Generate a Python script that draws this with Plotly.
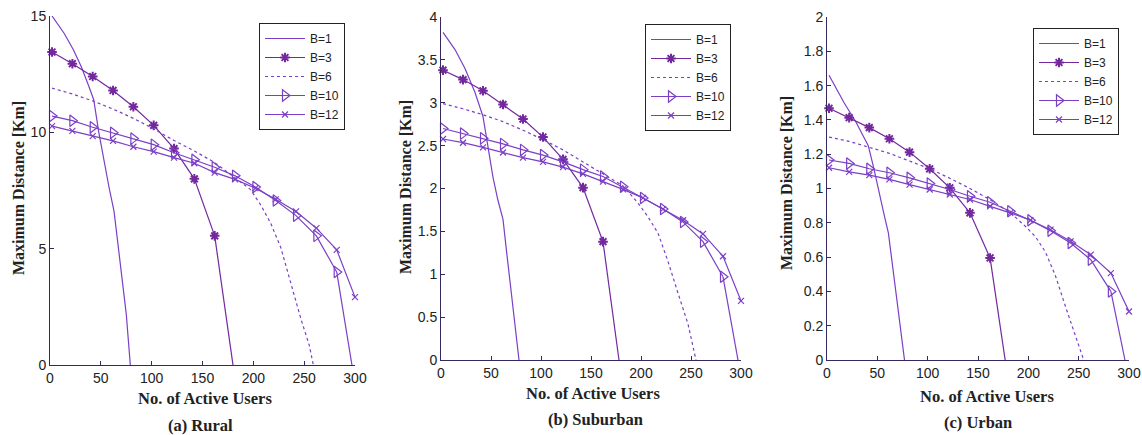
import plotly.graph_objects as go

# ---------------- data ----------------
X_MARK = [2, 22, 42, 62, 82, 102, 122, 142, 162, 182, 202, 222, 242, 262, 282]
X_B6 = [2, 22, 42, 62, 82, 102, 122, 142, 162, 182, 197, 207, 217, 227, 237, 247, 255]
SERIES = ["B=1", "B=3", "B=6", "B=10", "B=12"]

# Rural
R_B1_X = [2, 14, 23, 31, 38, 43, 48, 53, 58, 63, 67, 71, 75, 79]
R_B1_Y = [15.0, 14.25, 13.55, 12.8, 12.0, 11.4, 10.0, 8.8, 7.65, 6.6, 5.2, 3.8, 2.2, 0]
R_B3_Y = [13.45, 12.95, 12.4, 11.8, 11.1, 10.3, 9.3, 8.0, 5.55]
R_B3_END = [180, 0]
R_B6_Y = [11.9, 11.65, 11.35, 11.0, 10.6, 10.15, 9.65, 9.2, 8.7, 8.05, 7.55, 6.9, 6.1, 5.05, 3.5, 1.95, 0.85]
R_B6_END = [259, 0]
R_B10_Y = [10.7, 10.5, 10.22, 9.98, 9.73, 9.47, 9.12, 8.82, 8.5, 8.13, 7.65, 7.07, 6.42, 5.55, 4.0]
R_B10_END = [297, 0]
R_B12_Y = [10.27, 10.06, 9.84, 9.63, 9.38, 9.17, 8.91, 8.67, 8.27, 7.98, 7.6, 7.12, 6.6, 5.88, 4.95]
R_B12_END = [300, 2.92]

# Suburban
S_B1_X = [2, 14, 24, 34, 42, 47, 52, 57, 62, 66, 70, 74, 78]
S_B1_Y = [3.82, 3.62, 3.40, 3.12, 2.84, 2.48, 2.13, 1.86, 1.64, 1.22, 0.80, 0.40, 0]
S_B3_Y = [3.38, 3.27, 3.14, 2.98, 2.81, 2.60, 2.34, 2.01, 1.38]
S_B3_END = [178, 0]
S_B6_Y = [2.99, 2.93, 2.86, 2.78, 2.68, 2.57, 2.45, 2.31, 2.17, 2.03, 1.83, 1.67, 1.48, 1.15, 0.78, 0.42, 0]
S_B6_END = [255, 0]
S_B10_Y = [2.70, 2.64, 2.585, 2.52, 2.45, 2.39, 2.31, 2.22, 2.14, 2.02, 1.89, 1.76, 1.61, 1.38, 0.97]
S_B10_END = [297, 0]
S_B12_Y = [2.577, 2.534, 2.48, 2.42, 2.36, 2.31, 2.25, 2.17, 2.08, 1.99, 1.89, 1.76, 1.63, 1.47, 1.21]
S_B12_END = [300, 0.69]

# Urban
U_B1_X = [2, 17, 29, 41, 46, 52, 57, 61, 65, 69, 73, 77]
U_B1_Y = [1.66, 1.50, 1.385, 1.25, 1.13, 0.96, 0.84, 0.74, 0.56, 0.37, 0.18, 0]
U_B3_Y = [1.468, 1.413, 1.355, 1.29, 1.212, 1.115, 1.004, 0.858, 0.595]
U_B3_END = [177, 0]
U_B6_Y = [1.30, 1.275, 1.24, 1.205, 1.16, 1.115, 1.06, 1.0, 0.935, 0.86, 0.78, 0.72, 0.63, 0.49, 0.31, 0.13, 0]
U_B6_END = [254, 0]
U_B10_Y = [1.166, 1.146, 1.115, 1.092, 1.062, 1.029, 0.994, 0.955, 0.92, 0.867, 0.815, 0.754, 0.682, 0.585, 0.40]
U_B10_END = [296, 0]
U_B12_Y = [1.121, 1.097, 1.078, 1.053, 1.023, 0.994, 0.965, 0.936, 0.896, 0.858, 0.815, 0.76, 0.692, 0.614, 0.507]
U_B12_END = [300, 0.283]

Y_TITLE = "Maximum Distance [Km]"
X_TITLE = "No. of Active Users"
CAPTIONS = ["(a) Rural", "(b) Suburban", "(c) Urban"]
Y_RANGES = [[0, 15], [0, 4], [0, 2]]
Y_DTICKS = [5, 0.5, 0.2]

# ---------------- style ----------------
LINE_C = "#7b3fc6"
B3_C = "#74289e"
AX_C = "#35285f"
SANS = "Liberation Sans, Arial, sans-serif"
SERIF = "Liberation Serif, Times New Roman, serif"
LW = 1.2

fig = go.Figure()

panels = [
    (R_B1_X, R_B1_Y, R_B3_Y, R_B3_END, R_B6_Y, R_B6_END, R_B10_Y, R_B10_END, R_B12_Y, R_B12_END),
    (S_B1_X, S_B1_Y, S_B3_Y, S_B3_END, S_B6_Y, S_B6_END, S_B10_Y, S_B10_END, S_B12_Y, S_B12_END),
    (U_B1_X, U_B1_Y, U_B3_Y, U_B3_END, U_B6_Y, U_B6_END, U_B10_Y, U_B10_END, U_B12_Y, U_B12_END),
]

for i, p in enumerate(panels):
    (b1x, b1y, b3y, b3e, b6y, b6e, b10y, b10e, b12y, b12e) = p
    ax = "" if i == 0 else str(i + 1)
    xa, ya = "x" + ax, "y" + ax
    lg = "legend" + ax
    common = dict(xaxis=xa, yaxis=ya, legend=lg)

    # B=1
    fig.add_trace(go.Scatter(x=b1x, y=b1y, mode="lines", name=SERIES[0],
                             line=dict(color=LINE_C, width=LW), **common))
    # B=3
    n3 = len(b3y)
    fig.add_trace(go.Scatter(x=[X_MARK[n3 - 1], b3e[0]], y=[b3y[-1], b3e[1]], mode="lines",
                             line=dict(color=B3_C, width=LW), showlegend=False, **common))
    fig.add_trace(go.Scatter(x=X_MARK[:n3], y=b3y, mode="lines+markers", name=SERIES[1],
                             line=dict(color=B3_C, width=LW), cliponaxis=False,
                             marker=dict(symbol="asterisk-open", size=8,
                                         line=dict(color=B3_C, width=2)), **common))
    # B=6
    fig.add_trace(go.Scatter(x=X_B6 + [b6e[0]], y=b6y + [b6e[1]], mode="lines", name=SERIES[2],
                             line=dict(color=LINE_C, width=LW, dash="dot"), **common))
    # B=10
    fig.add_trace(go.Scatter(x=[X_MARK[-1], b10e[0]], y=[b10y[-1], b10e[1]], mode="lines",
                             line=dict(color=LINE_C, width=LW), showlegend=False, **common))
    fig.add_trace(go.Scatter(x=X_MARK, y=b10y, mode="lines+markers", name=SERIES[3],
                             line=dict(color=LINE_C, width=LW), cliponaxis=False,
                             marker=dict(symbol="triangle-right-open", size=10,
                                         line=dict(color=LINE_C, width=1.2)), **common))
    # B=12
    fig.add_trace(go.Scatter(x=X_MARK + [b12e[0]], y=b12y + [b12e[1]], mode="lines+markers",
                             name=SERIES[4], line=dict(color=LINE_C, width=LW), cliponaxis=False,
                             marker=dict(symbol="x-thin-open", size=6,
                                         line=dict(color=LINE_C, width=1.2)), **common))

W, H = 1142, 435
x_doms = [[50 / W, 355 / W], [441 / W, 741 / W], [827 / W, 1129 / W]]
y_doms = [[1 - 365 / H, 1 - 16 / H], [1 - 360 / H, 1 - 17 / H], [1 - 360 / H, 1 - 17 / H]]
legend_pos = [(259 / W, 1 - 23 / H), (645 / W, 1 - 24 / H), (1033 / W, 1 - 28 / H)]
ytitle_x = [18, 405, 787]
ytitle_y = [188, 187, 183]
xtitle_pos = [(205, 398), (593, 393), (987, 396)]
cap_pos = [(200, 425), (595, 419), (978, 422)]

layout = dict(width=W, height=H, margin=dict(l=0, r=0, t=0, b=0, autoexpand=False),
              paper_bgcolor="white", plot_bgcolor="white", annotations=[])

for i in range(3):
    ax = "" if i == 0 else str(i + 1)
    layout["xaxis" + ax] = dict(domain=x_doms[i], range=[0, 300], dtick=50, tick0=0,
                                showline=True, linecolor=AX_C, linewidth=1, mirror=False,
                                ticks="inside", ticklen=4, tickcolor=AX_C, showgrid=False,
                                zeroline=False, anchor="y" + ax, automargin=False,
                                tickfont=dict(family=SANS, size=14, color="#222"))
    layout["yaxis" + ax] = dict(domain=y_doms[i], range=Y_RANGES[i], dtick=Y_DTICKS[i], tick0=0,
                                showline=True, linecolor=AX_C, linewidth=1, mirror=False,
                                ticks="inside", ticklen=4, tickcolor=AX_C, showgrid=False,
                                zeroline=False, anchor="x" + ax, automargin=False,
                                tickfont=dict(family=SANS, size=14, color="#222"))
    lx, ly = legend_pos[i]
    layout["legend" + ax] = dict(x=lx, y=ly, xanchor="left", yanchor="top",
                                 bgcolor="white", bordercolor="#222", borderwidth=1,
                                 font=dict(family=SANS, size=12, color="#222"),
                                 tracegroupgap=0, itemwidth=40)
    layout["annotations"] += [
        dict(text="<b>" + Y_TITLE + "</b>", x=ytitle_x[i] / W, y=1 - ytitle_y[i] / H,
             xref="paper", yref="paper", textangle=-90, showarrow=False,
             xanchor="center", yanchor="middle",
             font=dict(family=SERIF, size=16, color="#222")),
        dict(text="<b>" + X_TITLE + "</b>", x=xtitle_pos[i][0] / W, y=1 - xtitle_pos[i][1] / H,
             xref="paper", yref="paper", showarrow=False, xanchor="center", yanchor="middle",
             font=dict(family=SERIF, size=16.5, color="#222")),
        dict(text="<b>" + CAPTIONS[i] + "</b>", x=cap_pos[i][0] / W, y=1 - cap_pos[i][1] / H,
             xref="paper", yref="paper", showarrow=False, xanchor="center", yanchor="middle",
             font=dict(family=SERIF, size=16.5, color="#222")),
    ]

fig.update_layout(**layout)
fig.write_html("out.html", config={"displayModeBar": False},
               post_script="document.body.style.margin='0px';")
